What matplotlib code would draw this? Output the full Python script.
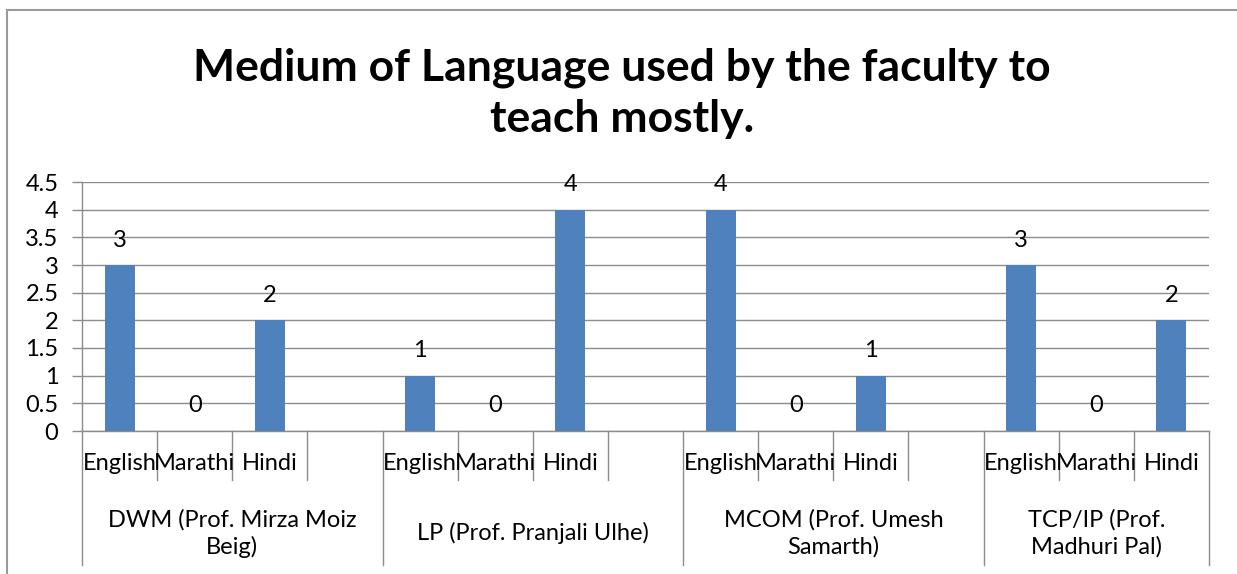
import matplotlib
matplotlib.use("Agg")
import matplotlib.pyplot as plt
from matplotlib.lines import Line2D

plt.rcParams['font.family'] = ['Lato', 'DejaVu Sans']

# data
groups = ['DWM (Prof. Mirza Moiz\nBeig)', 'LP (Prof. Pranjali Ulhe)',
          'MCOM (Prof. Umesh\nSamarth)', 'TCP/IP (Prof.\nMadhuri Pal)']
languages = ['English', 'Marathi', 'Hindi']
dwm = [3, 0, 2]
lp = [1, 0, 4]
mcom = [4, 0, 1]
tcp = [3, 0, 2]
values = [dwm, lp, mcom, tcp]

yticks = [0, 0.5, 1, 1.5, 2, 2.5, 3, 3.5, 4, 4.5]
ytick_labels = ['0', '0.5', '1', '1.5', '2', '2.5', '3', '3.5', '4', '4.5']

bar_color = '#4F81BD'
grid_color = '#8C8C8C'
fs = 17

fig = plt.figure(figsize=(12.37, 5.74), dpi=100)
ax = fig.add_axes([82 / 1237, 143 / 574, (1209 - 82) / 1237, 249 / 574])

# 4 slots per group (3 languages + blank), last group has no trailing blank
slots_per_group = 4
n_slots = slots_per_group * (len(groups) - 1) + len(languages)

xs, ys = [], []
for g, vals in enumerate(values):
    for j, v in enumerate(vals):
        xs.append(g * slots_per_group + j + 0.5)
        ys.append(v)

ax.bar(xs, ys, width=0.4, color=bar_color, zorder=3)
for x, y in zip(xs, ys):
    ax.annotate(str(y), (x, y), xytext=(0, 18), textcoords='offset points',
                ha='center', va='center', fontsize=fs, zorder=4)

ax.set_xlim(0, n_slots)
ax.set_ylim(0, 4.5)
ax.set_yticks(yticks)
ax.set_yticklabels(ytick_labels, fontsize=fs)
ax.tick_params(axis='y', length=7, width=1, color=grid_color, pad=10)
ax.set_xticks([])
ax.grid(axis='y', color=grid_color, linewidth=1, zorder=0)
for s in ['top', 'right']:
    ax.spines[s].set_visible(False)
for s in ['left', 'bottom']:
    ax.spines[s].set_color(grid_color)
    ax.spines[s].set_linewidth(1)

trans = ax.get_xaxis_transform()
group_edges = [g * slots_per_group for g in range(len(groups))] + [n_slots]
for k in range(n_slots + 1):
    low = -0.54 if k in group_edges else -0.197
    ax.add_line(Line2D([k, k], [0, low], transform=trans, color=grid_color,
                       linewidth=1, clip_on=False))

for g, name in enumerate(groups):
    for j, lang in enumerate(languages):
        ax.text(g * slots_per_group + j + 0.5, -0.13, lang, transform=trans,
                ha='center', va='center', fontsize=fs)
    start = g * slots_per_group
    end = min(start + slots_per_group, n_slots)
    ax.text((start + end) / 2, -0.41, name, transform=trans, ha='center',
            va='center', fontsize=fs, linespacing=1.3)

fig.text(0.503, 0.838, 'Medium of Language used by the faculty to\nteach mostly.',
         ha='center', va='center', fontsize=32, fontweight='bold', linespacing=1.32)

# outer chart border
fig.add_artist(Line2D([7 / 1237, 1], [1 - 10 / 574, 1 - 10 / 574],
                      transform=fig.transFigure, color='#9A9A9A', linewidth=1.5))
fig.add_artist(Line2D([7 / 1237, 7 / 1237], [0, 1 - 10 / 574],
                      transform=fig.transFigure, color='#9A9A9A', linewidth=1.5))

fig.savefig('out.png', dpi=100)
